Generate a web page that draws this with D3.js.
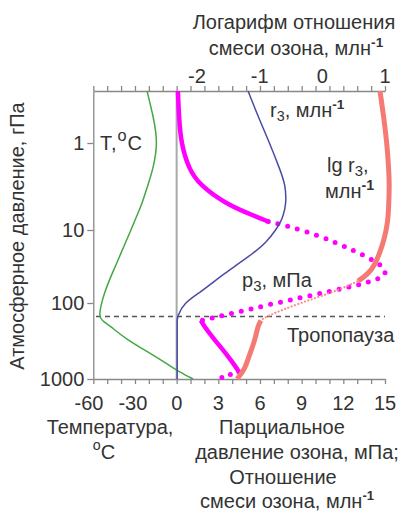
<!DOCTYPE html>
<html>
<head>
<meta charset="utf-8">
<script src="https://cdn.jsdelivr.net/npm/d3@7"></script>
<style>
body{margin:0;background:#fff;}
text{font-family:"Liberation Sans",Arial,sans-serif;fill:#333;font-size:20px;}
</style>
</head>
<body>
<script>
// уровни давления, гПа
var levels = [0.25,0.5,1,2,3,5,7,8,10,15,20,30,40,50,70,100,150,170,200,300,500,700,800,1000];
// температура, °C
var temp = [-20.3,-15.9,-12.8,-16.2,-19.6,-23.7,-27.5,-28.9,-31.3,-35.1,-37.8,-41.5,-44.3,-46.3,-49.1,-51.5,-53.2,-51.1,-45.6,-34.7,-14.8,-3.2,1.6,11.2];
// отношение смеси озона r3, млн-1
var r3 = [5.14,5.88,6.69,7.43,7.83,7.9,7.65,7.5,7.14,6.42,5.63,4.34,3.4,2.75,1.75,0.52,0.06,0.04,0.04,0.04,0.04,0.04,0.04,0.04];
// парциальное давление озона p3, мПа
var p3 = [0.09,0.17,0.31,0.88,1.64,3.5,5.7,6.6,9.15,11.5,13.0,14.8,15.2,14.3,11.0,7.1,3.1,1.75,1.96,2.7,3.7,4.27,4.48,2.95];
// lg r3
var lgr3 = [0.92,0.98,1.03,1.06,1.07,1.06,1.05,1.04,1.02,0.97,0.92,0.84,0.73,0.57,0.2,-0.36,-0.9,-0.98,-1.03,-1.07,-1.17,-1.23,-1.27,-1.36];

// подписи осей
var yTicks = [1,10,100,1000];
var tTicks = [-60,-30,0];
var pTicks = [3,6,9,12,15];
var lgTicks = [-2,-1,0,1];
var tropopause = 150;

var svg = d3.select("body").append("svg")
    .attr("width",408).attr("height",513);

// шкалы
var y = d3.scaleLog().domain([0.25,1,10,100,1000]).range([91,143,230,303,379]);
var xP = d3.scaleLinear().domain([-6,15]).range([93.3,385]);
var xT = d3.scaleLinear().domain([-60,0]).range([89,176.7]);
var xLg = d3.scaleLinear().domain([-2,1]).range([197,385]);

// верхняя ось
var topAx = svg.append("g").attr("transform","translate(0,91)")
    .call(d3.axisTop(xP).tickValues(d3.range(-6,16)).tickFormat("").tickSize(5).tickSizeOuter(0));
topAx.selectAll("line,path").attr("stroke","#888").attr("stroke-width",1.3);
svg.selectAll(".lgLab").data(lgTicks).enter().append("text")
    .attr("x",function(d){return xLg(d);})
    .attr("y",83)
    .attr("text-anchor","middle")
    .text(function(d){return d;});

// нижняя ось
var botAx = svg.append("g").attr("transform","translate(0,379)")
    .call(d3.axisBottom(xP).tickValues(d3.range(-6,16)).tickFormat("").tickSize(5).tickSizeOuter(0));
botAx.selectAll("line,path").attr("stroke","#888").attr("stroke-width",1.3);
svg.selectAll(".tLab").data(tTicks).enter().append("text")
    .attr("x",function(d){return xT(d);})
    .attr("y",410)
    .attr("text-anchor","middle")
    .text(function(d){return d;});
svg.selectAll(".pLab").data(pTicks).enter().append("text")
    .attr("x",function(d){return xP(d);})
    .attr("y",410)
    .attr("text-anchor","middle")
    .text(function(d){return d;});

// левая ось
var leftAx = svg.append("g").attr("transform","translate(93.3,0)")
    .call(d3.axisLeft(y).tickValues(yTicks).tickFormat(d3.format("d")).tickSize(6).tickSizeOuter(0).tickPadding(3));
leftAx.selectAll("line,path").attr("stroke","#888").attr("stroke-width",1.3);
leftAx.selectAll("text").attr("font-size",22).attr("fill","#333")
    .attr("font-family","Liberation Sans,Arial,sans-serif");

// линия нуля
svg.append("line")
    .attr("x1",xP(0)).attr("x2",xP(0))
    .attr("y1",y(0.25)).attr("y2",y(1000))
    .attr("stroke","#aaa").attr("stroke-width",2);

// тропопауза
svg.append("line")
    .attr("x1",96).attr("x2",385)
    .attr("y1",y(tropopause)).attr("y2",y(tropopause))
    .attr("stroke","#555").attr("stroke-width",1.5)
    .attr("stroke-dasharray","5,4");

// рисуем кривую по кусочку давления
function draw(vals,xs,from,to){
    var line = d3.line()
        .defined(function(d,i){return levels[i]>=from && levels[i]<=to;})
        .x(function(d){return xs(d);})
        .y(function(d,i){return y(levels[i]);})
        .curve(d3.curveBasis);
    return svg.append("path").datum(vals)
        .attr("d",line)
        .attr("fill","none");
}

// температура
draw(temp,xT,0.25,1000).attr("stroke","#43a843").attr("stroke-width",1.5);

// p3: сплошная и точки
draw(p3,xP,0.25,8).attr("stroke","#ff00ff").attr("stroke-width",4.5);
draw(p3,xP,8,170).attr("stroke","#ff00ff").attr("stroke-width",5)
    .attr("stroke-linecap","round").attr("stroke-dasharray","0,10");
draw(p3,xP,170,800).attr("stroke","#ff00ff").attr("stroke-width",4.5);
draw(p3,xP,800,1000).attr("stroke","#ff00ff").attr("stroke-width",5)
    .attr("stroke-linecap","round").attr("stroke-dasharray","0,9");

// r3
draw(r3,xP,0.25,1000).attr("stroke","#4b4ba6").attr("stroke-width",1.5);

// lg r3
draw(lgr3,xLg,0.25,50).attr("stroke","#f57a74").attr("stroke-width",5);
draw(lgr3,xLg,50,170).attr("stroke","#f78f8a").attr("stroke-width",2)
    .attr("stroke-dasharray","2,1.5");
draw(lgr3,xLg,170,1000).attr("stroke","#f57a74").attr("stroke-width",5);

// надписи
function label(x,yy,parts,anchor,size){
    size = size||21;
    var t = svg.append("text").attr("x",x).attr("y",yy)
        .attr("font-size",size)
        .attr("text-anchor",anchor||"start");
    parts.forEach(function(p){
        var s = t.append("tspan").text(p[0]);
        if(p[1]=="sub") s.attr("font-size",size*0.65).attr("dy",4);
        if(p[1]=="sup") s.attr("font-size",size*0.62).attr("font-weight","bold").attr("dy",-8);
        if(p[1]=="deg") s.attr("font-size",size*0.65).attr("dy",-9);
        if(p[2]) s.attr("dy",p[2]);
    });
    return t;
}

label(294,29,[["Логарифм отношения"]],"middle",23);
label(296,55,[["смеси озона, млн"],["-1","sup"]],"middle",22);

label(100,150,[["T,"],["o","deg"],["C",null,9]],"start",25).attr("letter-spacing",1);
label(270,117,[["r"],["3","sub"],[", млн",null,-4],["-1","sup"]],"start",22);
label(327,172,[["lg r"],["3","sub"],[",",null,-4]],"start",23);
label(325,198,[["млн"],["-1","sup"]],"start",23);
label(242,287,[["p"],["3","sub"],[", мПа",null,-4]],"start",23);
label(287,342,[["Тропопауза"]],"start",21);

label(110,434,[["Температура,"]],"middle",21);
label(104,459,[["o","deg"],["C",null,9]],"middle",22);
label(282,434,[["Парциальное"]],"middle",21);
label(297,459,[["давление озона, мПа;"]],"middle",22);
label(283,484,[["Отношение"]],"middle",21);
label(287,508,[["смеси озона, млн"],["-1","sup"]],"middle",21);

// подпись оси давления
svg.append("text")
    .attr("transform","translate(24,236) rotate(-90)")
    .attr("text-anchor","middle")
    .attr("font-size",23)
    .text("Атмосферное давление, гПа");
</script>
</body>
</html>
